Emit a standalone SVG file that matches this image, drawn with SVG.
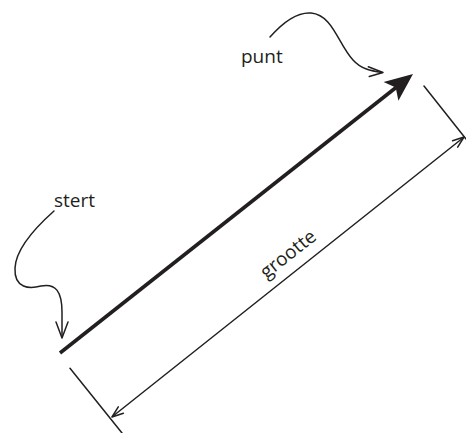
<svg xmlns="http://www.w3.org/2000/svg" width="466" height="433" viewBox="0 0 466 433">
<style>
.thin{fill:none;stroke:#231f20;stroke-width:1.5;stroke-linecap:round;stroke-linejoin:round}
.thick{fill:none;stroke:#231f20;stroke-width:3.6}
.lbl{font-family:"Open Sans","Liberation Sans",sans-serif;font-size:19px;fill:#231f20}
</style>
<rect width="466" height="433" fill="#fff"/>
<g id="vector">
<line class="thick" x1="60" y1="353" x2="396" y2="87.5"/>
<polygon points="413,74 383.6,82 395.7,87.6 398.4,100.8" fill="#231f20"/>
</g>
<g id="label-punt"><text class="lbl" x="241" y="63">punt</text></g>
<g id="label-stert"><text class="lbl" x="54" y="207">stert</text></g>
<g id="label-grootte"><text class="lbl" text-anchor="middle" transform="translate(292,259) rotate(-38.3)">grootte</text></g>
<g id="connectors">
<path class="thin" d="M270,37 C285,20 298,12 311,13 C333,15 338,44 353,60 C361,69 371,71 382,72.5"/>
<path class="thin" d="M368.3,66.7 L383,72.5 L369.3,76.5"/>
<path class="thin" d="M54,211 C36,227 16,248 15,268 C14,289 30,289 41,286 C56,283 62,292 62,312 L62,337"/>
<path class="thin" d="M56,322 L62,338 L68,322"/>
<line class="thin" x1="70" y1="368.3" x2="122" y2="433"/>
<line class="thin" x1="424" y1="86" x2="466" y2="139"/>
<line class="thin" x1="112.5" y1="416.5" x2="463.5" y2="137.5"/>
<path class="thin" d="M118.3,406.8 L112,417 L123.4,413.2"/>
<path class="thin" d="M452.6,140.8 L464,137 L457.7,147.2"/>
</g>
</svg>
